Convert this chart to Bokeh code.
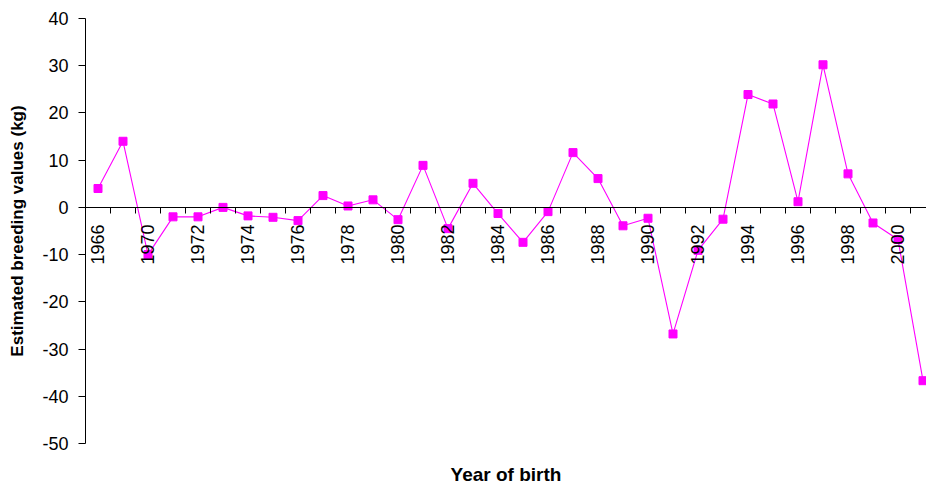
import math
from bokeh.plotting import figure
from bokeh.models import Range1d, FixedTicker, LinearAxis, ColumnDataSource
from bokeh.embed import file_html
from bokeh.resources import INLINE

# Data
years = ["1966", "1968", "1970", "1971", "1972", "1973", "1974", "1975", "1976",
         "1977", "1978", "1979", "1980", "1981", "1982", "1983", "1984", "1985",
         "1986", "1987", "1988", "1989", "1990", "1991", "1992", "1993", "1994",
         "1995", "1996", "1997", "1998", "1999", "2000", "2001"]
breeding_values = [4.0, 14.0, -10.0, -2.0, -2.0, 0.0, -1.8, -2.1, -2.8,
                   2.5, 0.3, 1.6, -2.6, 8.9, -4.5, 5.1, -1.3, -7.4,
                   -0.9, 11.6, 6.1, -3.9, -2.3, -26.8, -9.1, -2.5, 23.9,
                   21.9, 1.2, 30.2, 7.1, -3.3, -6.8, -36.7]
y_ticks = [-50, -40, -30, -20, -10, 0, 10, 20, 30, 40]

FONT = "Liberation Sans"
MAGENTA = "#FF00FF"

n = len(years)
pos = list(range(n))
src = ColumnDataSource(dict(x=pos, y=breeding_values, year=years))

p = figure(width=926, height=487, output_backend="svg", toolbar_location=None,
           x_range=Range1d(-0.5, 33.14), y_range=Range1d(-50, 40),
           min_border_left=85, min_border_top=18, min_border_right=0,
           min_border_bottom=44)
p.outline_line_color = None
p.xgrid.visible = False
p.ygrid.visible = False
p.background_fill_color = "white"
p.border_fill_color = "white"

p.line("x", "y", source=src, line_color=MAGENTA, line_width=1.1)
p.scatter("x", "y", source=src, marker="square", size=8,
          fill_color=MAGENTA, line_color=MAGENTA)

# X axis at y = 0
xa = p.xaxis[0]
xa.fixed_location = 0
labeled = pos[::2]
xa.ticker = FixedTicker(ticks=labeled, minor_ticks=[i - 0.5 for i in range(n + 1)])
xa.major_label_overrides = {i: years[i] for i in labeled}
xa.major_label_orientation = math.pi / 2
xa.major_tick_line_color = None
xa.major_tick_out = 6
xa.major_tick_in = 0
xa.minor_tick_out = 6
xa.minor_tick_in = 0
xa.minor_tick_line_color = "black"
xa.major_label_standoff = 11
xa.major_label_text_font = FONT
xa.major_label_text_font_size = "18px"
xa.major_label_text_color = "black"
xa.axis_line_color = "black"

# Bottom title
ta = LinearAxis(ticker=FixedTicker(ticks=[]), axis_label="Year of birth")
ta.axis_line_color = None
ta.major_tick_line_color = None
ta.minor_tick_line_color = None
ta.major_tick_out = 0
ta.major_label_text_font_size = "0px"
ta.axis_label_standoff = 20
ta.axis_label_text_font = FONT
ta.axis_label_text_font_size = "19px"
ta.axis_label_text_font_style = "bold"
ta.axis_label_text_color = "black"
p.add_layout(ta, "below")

# Y axis
ya = p.yaxis[0]
ya.ticker = FixedTicker(ticks=y_ticks)
ya.major_label_overrides = {t: str(t) for t in y_ticks}
ya.major_tick_out = 7
ya.major_tick_in = 0
ya.minor_tick_line_color = None
ya.major_label_standoff = 10
ya.major_label_text_font = FONT
ya.major_label_text_font_size = "18px"
ya.major_label_text_color = "black"
ya.axis_line_color = "black"
ya.axis_label = "Estimated breeding values (kg)"
ya.axis_label_text_font = FONT
ya.axis_label_text_font_size = "17px"
ya.axis_label_text_font_style = "bold"
ya.axis_label_text_color = "black"
ya.axis_label_standoff = 12

open("out.html", "w").write(file_html(p, INLINE))
